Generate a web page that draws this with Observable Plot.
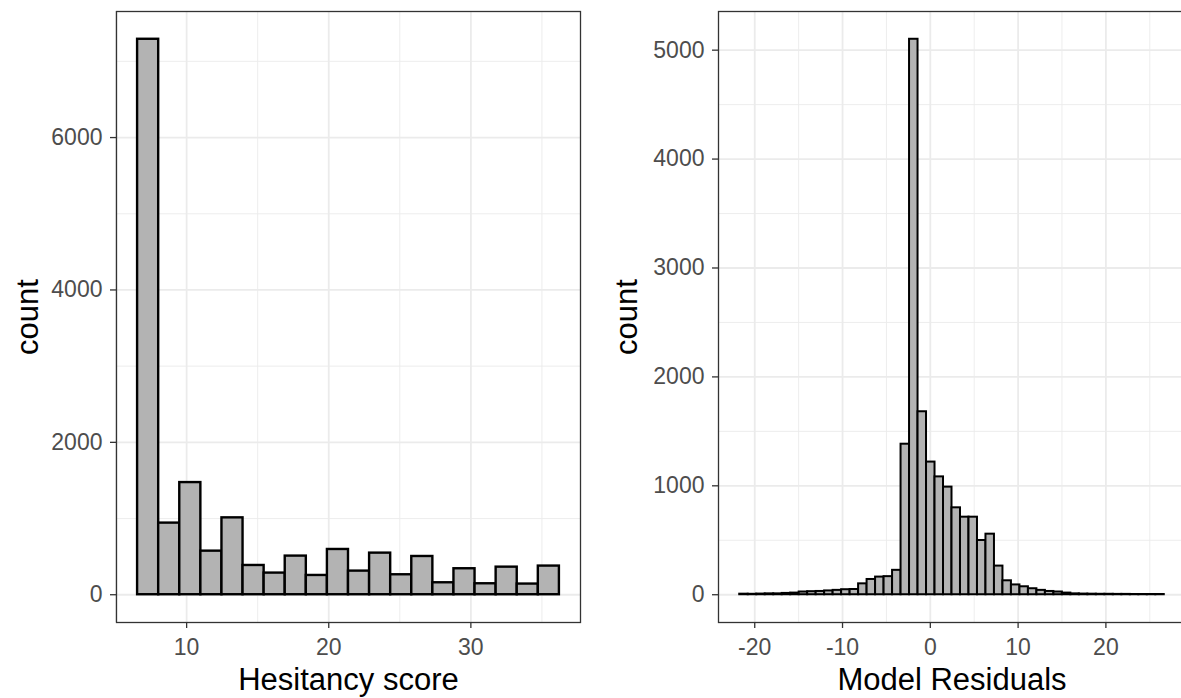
<!DOCTYPE html>
<html>
<head>
<meta charset="utf-8">
<script src="https://cdn.jsdelivr.net/npm/d3@7"></script>
<script src="https://cdn.jsdelivr.net/npm/@observablehq/plot@0.6"></script>
<style>
  html, body { margin: 0; padding: 0; background: white; overflow: hidden; }
  #wrap { position: relative; width: 1181px; height: 698px; overflow: hidden; background: white; }
  #left, #right { position: absolute; top: 0; }
  #left { left: 0; width: 600px; }
  #right { left: 602px; width: 603px; }
  #wrap svg { max-width: none !important; }
</style>
</head>
<body>
<div id="wrap"><div id="left"></div><div id="right"></div></div>
<script>
// ---- Data ----
// Left: histogram of Hesitancy score (20 bins)
const hesitancyBinStart = 6.55;
const hesitancyBinWidth = 1.484;
const hesitancyCounts = [7290, 940, 1472, 572, 1009, 384, 284, 507, 253, 594, 310, 546, 262, 502, 157, 341, 144, 362, 140, 376];
const hesitancyXTicks = [10, 20, 30];
const hesitancyXMinor = [5, 15, 25, 35];
const hesitancyYTicks = [0, 2000, 4000, 6000];
const hesitancyYMinor = [1000, 3000, 5000, 7000];

// Right: histogram of model residuals (50 bins)
const residualBinStart = -21.71;
const residualBinWidth = 0.9672;
const residualCounts = [5, 4, 6, 8, 8, 12, 15, 25, 28, 30, 35, 40, 46, 48, 100, 140, 162, 166, 224, 1382,
  5100, 1680, 1218, 1082, 988, 798, 712, 712, 498, 556, 263, 128, 90, 73, 55, 40, 30, 25, 15, 8,
  6, 5, 4, 4, 3, 3, 2, 2, 2, 2];
const residualXTicks = [-20, -10, 0, 10, 20];
const residualXMinor = [-15, -5, 5, 15, 25];
const residualYTicks = [0, 1000, 2000, 3000, 4000, 5000];
const residualYMinor = [500, 1500, 2500, 3500, 4500];

const xTitleLeft = "Hesitancy score";
const xTitleRight = "Model Residuals";
const yTitle = "count";

// ---- Build tables ----
function bins(start, width, counts) {
  return counts.map((c, i) => ({x1: start + i * width, x2: start + (i + 1) * width, count: c}));
}
function expand(lo, hi, f = 0.05) { const d = hi - lo; return [lo - f * d, hi + f * d]; }

const FONT = "'Liberation Sans', Arial, Helvetica, sans-serif";
const GRID = "#EBEBEB";

function panel({width, data, xTicks, xMinor, yTicks, yMinor, xTitle, countDx, strokeW}) {
  const xDom = expand(data[0].x1, data[data.length - 1].x2);
  const yDom = expand(0, d3.max(data, d => d.count));
  return Plot.plot({
    width, height: 698,
    marginLeft: 116, marginRight: 20, marginTop: 11, marginBottom: 76,
    style: {fontFamily: FONT, background: "white", overflow: "visible"},
    x: {domain: xDom, type: "linear"},
    y: {domain: yDom, type: "linear"},
    marks: [
      Plot.gridX(xMinor, {stroke: GRID, strokeOpacity: 1, strokeWidth: 0.9}),
      Plot.gridY(yMinor, {stroke: GRID, strokeOpacity: 1, strokeWidth: 0.9}),
      Plot.gridX(xTicks, {stroke: GRID, strokeOpacity: 1, strokeWidth: 1.8}),
      Plot.gridY(yTicks, {stroke: GRID, strokeOpacity: 1, strokeWidth: 1.8}),
      Plot.rectY(data, {x1: "x1", x2: "x2", y: "count", fill: "#B3B3B3", stroke: "black", strokeWidth: strokeW}),
      Plot.frame({stroke: "#333333", strokeWidth: 1.3}),
      Plot.axisX(xTicks, {tickSize: 6, tickPadding: 10, fontSize: 23, fill: "#4D4D4D", stroke: "#333333", strokeWidth: 1.3, tickFormat: d => String(d), label: null}),
      Plot.axisY(yTicks, {tickSize: 6, tickPadding: 8, fontSize: 23, fill: "#4D4D4D", stroke: "#333333", strokeWidth: 1.3, tickFormat: d => String(d), label: null}),
      Plot.text([xTitle], {frameAnchor: "bottom", dy: 58, fontSize: 31, fill: "black", textAnchor: "middle", lineAnchor: "middle"}),
      Plot.text([yTitle], {frameAnchor: "left", dx: countDx, rotate: -90, fontSize: 31, fill: "black", textAnchor: "middle", lineAnchor: "middle"})
    ]
  });
}

document.getElementById("left").appendChild(panel({
  width: 600,
  data: bins(hesitancyBinStart, hesitancyBinWidth, hesitancyCounts),
  xTicks: hesitancyXTicks, xMinor: hesitancyXMinor, yTicks: hesitancyYTicks, yMinor: hesitancyYMinor,
  xTitle: xTitleLeft, countDx: -88, strokeW: 2.4
}));
document.getElementById("right").appendChild(panel({
  width: 603,
  data: bins(residualBinStart, residualBinWidth, residualCounts),
  xTicks: residualXTicks, xMinor: residualXMinor, yTicks: residualYTicks, yMinor: residualYMinor,
  xTitle: xTitleRight, countDx: -91, strokeW: 2
}));
</script>
</body>
</html>
